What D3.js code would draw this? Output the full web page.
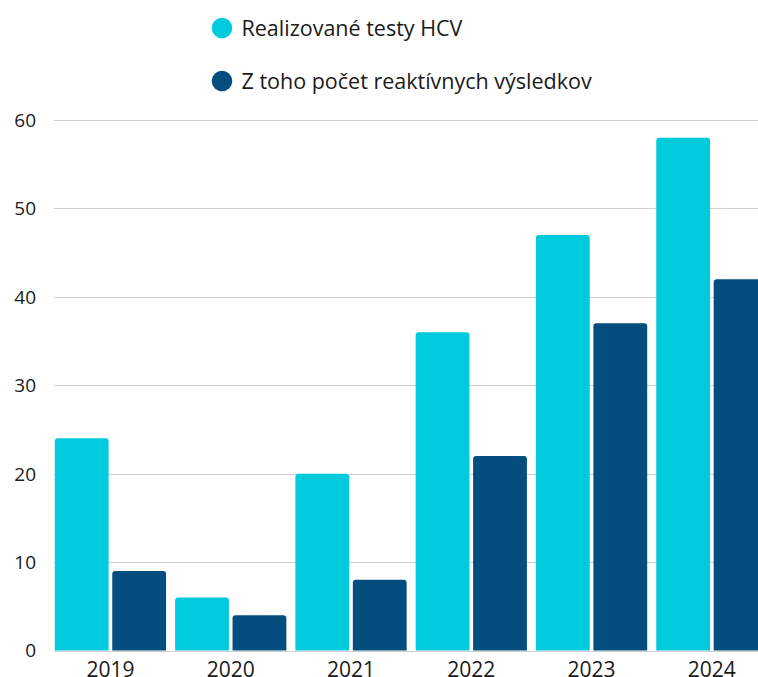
<!DOCTYPE html>
<html>
<head>
<meta charset="utf-8">
<script src="https://cdn.jsdelivr.net/npm/d3@7"></script>
<style>
  html, body { margin: 0; padding: 0; background: #fff; overflow: hidden; }
  svg { display: block; font-family: 'Open Sans', sans-serif; }
</style>
</head>
<body>
<svg id="chart"></svg>
<script>
const years = ['2019', '2020', '2021', '2022', '2023', '2024']
const seriesNames = ['Realizované testy HCV', 'Z toho počet reaktívnych výsledkov']
const tested = [24, 6, 20, 36, 47, 58]
const reactive = [9, 4, 8, 22, 37, 42]
const yTicks = [0, 10, 20, 30, 40, 50, 60]
const colors = ['#00cbdc', '#034e7e']

const width = 758
const height = 677

const svg = d3.select('#chart').attr('width', width).attr('height', height)

const y = d3.scaleLinear().domain([0, 60]).range([650.5, 120])

// the plot runs past the right edge, the last bar is cut off
const x = d3.scaleBand().domain(years).range([50.3, 772]).paddingInner(0.075).paddingOuter(0.0375)
const xSub = d3.scaleBand().domain([0, 1]).range([0, x.bandwidth()]).paddingInner(0.063)

// grid
svg.append('g')
  .selectAll('line')
  .data(yTicks)
  .join('line')
  .attr('x1', 54).attr('x2', width)
  .attr('y1', (d) => Math.round(y(d)) + 0.5).attr('y2', (d) => Math.round(y(d)) + 0.5)
  .attr('stroke', '#cfcfcf')
  .attr('stroke-width', 1)

svg.append('g')
  .selectAll('text')
  .data(yTicks)
  .join('text')
  .attr('x', 36)
  .attr('y', (d) => y(d))
  .attr('dy', '0.36em')
  .attr('text-anchor', 'end')
  .attr('font-size', 19)
  .attr('fill', '#1a1a1a')
  .text((d) => d)

// bars with rounded top corners
const r = 3
const barPath = (x0, w, yTop, yBase) => {
  return `M${x0},${yBase}V${yTop + r}Q${x0},${yTop} ${x0 + r},${yTop}H${x0 + w - r}Q${x0 + w},${yTop} ${x0 + w},${yTop + r}V${yBase}Z`
}

const rows = years.map((yr, i) => ({ year: yr, values: [tested[i], reactive[i]] }))

const groups = svg.append('g')
  .selectAll('g')
  .data(rows)
  .join('g')
  .attr('transform', (d) => `translate(${x(d.year)},0)`)

groups.selectAll('path')
  .data((d) => d.values.map((v, k) => ({ v, k })))
  .join('path')
  .attr('fill', (d) => colors[d.k])
  .attr('d', (d) => barPath(xSub(d.k), xSub.bandwidth(), y(d.v), y(0)))

// x labels, cut at the bottom edge like the original
svg.append('g')
  .selectAll('text')
  .data(years)
  .join('text')
  .attr('x', (d) => x(d) + x.bandwidth() / 2)
  .attr('y', 677)
  .attr('text-anchor', 'middle')
  .attr('font-size', 21)
  .attr('fill', '#1a1a1a')
  .text((d) => d)

// legend
const legend = svg.append('g')
  .selectAll('g')
  .data(seriesNames)
  .join('g')
  .attr('transform', (d, i) => `translate(222,${28 + i * 53})`)

legend.append('circle').attr('r', 10.3).attr('fill', (d, i) => colors[i])
legend.append('text')
  .attr('x', 19.5)
  .attr('dy', '0.35em')
  .attr('font-size', 21.5)
  .attr('fill', '#1a1a1a')
  .text((d) => d)
</script>
</body>
</html>
